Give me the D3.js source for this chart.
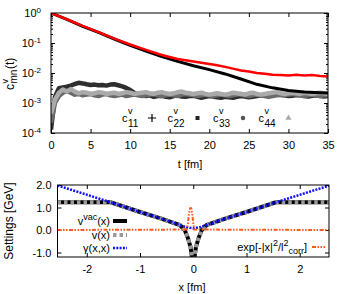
<!DOCTYPE html>
<html>
<head>
<meta charset="utf-8">
<script src="https://cdn.jsdelivr.net/npm/d3@7"></script>
<style>
  body { margin: 0; background: #fff; }
  svg { font-family: "Liberation Sans", Arial, sans-serif; }
</style>
</head>
<body>
<div id="chart"></div>
<script>
// ---- top panel data: c^v_mn(t) ----
const tRed = [0, 2, 4, 6, 8, 10, 12, 14, 16, 18, 20, 21, 22, 23, 24, 25, 26, 27, 28, 29, 30, 31, 32, 33, 34, 35]
const cRed = [1, 0.62, 0.37, 0.23, 0.14, 0.089, 0.059, 0.040, 0.0295, 0.024, 0.020, 0.0182, 0.0160, 0.0140, 0.0122, 0.0112, 0.0100, 0.0094, 0.0088, 0.0086, 0.0082, 0.0087, 0.0083, 0.0085, 0.0080, 0.0077]
const tBlack = [0, 2, 4, 6, 8, 10, 12, 14, 16, 18, 20, 22, 24, 26, 28, 30, 32, 34, 35]
const cBlack = [1, 0.61, 0.36, 0.225, 0.136, 0.084, 0.054, 0.035, 0.0245, 0.0175, 0.0130, 0.0093, 0.0063, 0.0042, 0.0032, 0.0026, 0.00234, 0.0022, 0.00214]
// grey curves sampled every 0.5 fm
const tGrey = d3.range(0, 35.01, 0.5)
const c22 = [1.3e-4, 1.6e-3, 3.1e-3, 3.3e-3, 3.5e-3, 3.8e-3, 4.3e-3, 4.7e-3, 4.5e-3, 4.2e-3,
  4.0e-3, 4.1e-3, 3.9e-3, 4.0e-3, 3.8e-3, 4.1e-3, 4.2e-3, 3.9e-3, 3.6e-3, 3.2e-3,
  2.7e-3, 2.2e-3, 1.9e-3, 1.8e-3, 1.7e-3, 1.8e-3, 1.6e-3, 1.7e-3, 1.75e-3, 1.6e-3,
  1.55e-3, 1.7e-3, 1.8e-3, 1.65e-3, 1.6e-3, 1.7e-3, 1.75e-3, 1.6e-3, 1.5e-3, 1.6e-3,
  1.7e-3, 1.65e-3, 1.55e-3, 1.5e-3, 1.6e-3, 1.55e-3, 1.5e-3, 1.6e-3, 1.7e-3, 1.65e-3,
  1.55e-3, 1.6e-3, 1.7e-3, 1.8e-3, 1.75e-3, 1.7e-3, 1.8e-3, 1.9e-3, 1.85e-3, 1.8e-3,
  1.7e-3, 1.75e-3, 1.85e-3, 1.8e-3, 1.7e-3, 1.65e-3, 1.75e-3, 1.8e-3, 1.7e-3, 1.65e-3,
  1.7e-3]
const c33 = [2.2e-4, 1.0e-3, 1.7e-3, 2.2e-3, 2.5e-3, 2.2e-3, 1.9e-3, 2.0e-3, 1.8e-3, 1.9e-3,
  2.0e-3, 1.8e-3, 1.7e-3, 1.9e-3, 2.0e-3, 1.8e-3, 1.7e-3, 1.8e-3, 1.9e-3, 1.7e-3,
  1.8e-3, 1.9e-3, 1.8e-3, 1.7e-3, 1.8e-3, 1.9e-3, 2.0e-3, 1.8e-3, 1.7e-3, 1.8e-3,
  1.9e-3, 1.8e-3, 1.7e-3, 1.9e-3, 2.0e-3, 1.9e-3, 1.8e-3, 1.7e-3, 1.8e-3, 1.9e-3,
  1.8e-3, 1.7e-3, 1.8e-3, 1.9e-3, 1.8e-3, 1.7e-3, 1.8e-3, 1.9e-3, 2.0e-3, 1.8e-3,
  1.7e-3, 1.8e-3, 1.9e-3, 1.8e-3, 1.7e-3, 1.6e-3, 1.7e-3, 1.8e-3, 1.9e-3, 1.8e-3,
  1.9e-3, 2.0e-3, 1.9e-3, 1.8e-3, 1.7e-3, 1.8e-3, 1.9e-3, 1.8e-3, 1.7e-3, 1.8e-3,
  1.8e-3]
const c44 = [4.5e-4, 1.3e-3, 2.2e-3, 2.8e-3, 2.4e-3, 2.9e-3, 2.4e-3, 2.1e-3, 2.3e-3, 2.2e-3,
  2.0e-3, 2.1e-3, 2.3e-3, 2.2e-3, 2.0e-3, 2.1e-3, 2.2e-3, 2.0e-3, 2.1e-3, 2.3e-3,
  2.2e-3, 2.0e-3, 2.1e-3, 2.2e-3, 2.3e-3, 2.1e-3, 2.0e-3, 2.2e-3, 2.3e-3, 2.1e-3,
  2.0e-3, 2.1e-3, 2.3e-3, 2.4e-3, 2.2e-3, 2.1e-3, 2.0e-3, 2.1e-3, 2.2e-3, 2.0e-3,
  1.9e-3, 2.0e-3, 2.1e-3, 2.0e-3, 1.9e-3, 2.0e-3, 2.2e-3, 2.1e-3, 2.0e-3, 1.9e-3,
  2.1e-3, 2.2e-3, 2.0e-3, 1.9e-3, 2.0e-3, 2.1e-3, 2.2e-3, 2.3e-3, 2.1e-3, 2.0e-3,
  2.1e-3, 2.2e-3, 2.1e-3, 2.0e-3, 2.2e-3, 2.1e-3, 2.0e-3, 2.1e-3, 2.2e-3, 2.1e-3,
  2.0e-3]
const tTicks = [0, 5, 10, 15, 20, 25, 30, 35]
const decades = [1e-4, 1e-3, 1e-2, 1e-1, 1]
const legendIdx = ['11', '22', '33', '44']

// ---- bottom panel data: settings ----
const xPot = [-2.55, -1.55, -1.0, -0.63, -0.25, -0.16, -0.1, -0.07, -0.05, -0.03, -0.02, 0.02, 0.03, 0.05, 0.07, 0.1, 0.16, 0.25, 0.63, 1.0, 1.55, 2.55]
const vVac = [1.23, 1.23, 0.8, 0.53, 0.22, 0.0, -0.36, -0.6, -0.76, -1.1, -1.4, -1.4, -1.1, -0.76, -0.6, -0.36, 0.0, 0.22, 0.53, 0.8, 1.23, 1.23]
const vX = [1.23, 1.23, 0.8, 0.53, 0.22, 0.0, -0.36, -0.6, -0.76, -1.1, -1.4, -1.4, -1.1, -0.76, -0.6, -0.36, 0.0, 0.22, 0.53, 0.8, 1.23, 1.23]
const xGam = [-2.55, -1.55, -1.0, -0.63, -0.25, -0.12, 0, 0.12, 0.25, 0.63, 1.0, 1.55, 2.55]
const gam = [1.98, 1.23, 0.8, 0.53, 0.22, 0.12, 0.07, 0.12, 0.22, 0.53, 0.8, 1.23, 1.97]
const xExp = [-2.55, -0.12, -0.1, -0.08, -0.06, -0.04, -0.02, 0.0, 0.02, 2.55]
const yExp = [0, 0.02, 0.3, 0.75, 0.97, 0.97, 0.75, 0.3, 0.02, 0]
const xTicksB = [-2, -1, 0, 1, 2]
const yTicksB = [-1, 0, 1, 2]

const W = 350, H = 294
const svg = d3.select('#chart').append('svg').attr('width', W).attr('height', H)

// ---------- top panel ----------
const xT = d3.scaleLinear().domain([0, 35]).range([51, 328])
const yT = d3.scaleLog().domain([1e-4, 1]).range([133, 13])

const defs = svg.append('defs')
defs.append('clipPath').attr('id', 'clipT').append('rect')
    .attr('x', 51).attr('y', 13).attr('width', 277).attr('height', 120)

const minors = []
decades.slice(0, 4).forEach(d => { for (let k = 2; k < 10; k++) minors.push(d * k) })

const styleAxis = g => {
    g.select('.domain').remove()
    g.selectAll('line').attr('stroke', '#000')
    g.attr('font-size', 11).attr('font-family', '"Liberation Sans", Arial, sans-serif')
}

svg.append('g').attr('transform', 'translate(0,133)')
    .call(d3.axisBottom(xT).tickValues(tTicks).tickSizeInner(-4).tickSizeOuter(0).tickPadding(8).tickFormat(d => d))
    .call(styleAxis)
svg.append('g').attr('transform', 'translate(0,13)')
    .call(d3.axisTop(xT).tickValues(tTicks).tickSizeInner(-4).tickSizeOuter(0).tickFormat(''))
    .call(styleAxis)

const yLeft = svg.append('g').attr('transform', 'translate(51,0)')
    .call(d3.axisLeft(yT).tickValues(decades).tickSizeInner(-4).tickSizeOuter(0).tickPadding(10).tickFormat(() => ''))
    .call(styleAxis)
yLeft.selectAll('.tick text').each(function (d) {
    const t = d3.select(this)
    t.append('tspan').text('10')
    t.append('tspan').attr('dy', '-0.5em').attr('font-size', 8).text(Math.round(Math.log10(d)))
})
svg.append('g').attr('transform', 'translate(51,0)')
    .call(d3.axisLeft(yT).tickValues(minors).tickSizeInner(-2).tickSizeOuter(0).tickFormat(''))
    .call(styleAxis)
svg.append('g').attr('transform', 'translate(328,0)')
    .call(d3.axisRight(yT).tickValues(decades).tickSizeInner(-4).tickSizeOuter(0).tickFormat(''))
    .call(styleAxis)
svg.append('g').attr('transform', 'translate(328,0)')
    .call(d3.axisRight(yT).tickValues(minors).tickSizeInner(-2).tickSizeOuter(0).tickFormat(''))
    .call(styleAxis)

const lineT = d3.line().x(d => xT(d[0])).y(d => yT(d[1]))
const plotT = svg.append('g').attr('clip-path', 'url(#clipT)')
const greySeries = [
    { vals: c22, color: '#2e2e2e' },
    { vals: c33, color: '#6a6a6a' },
    { vals: c44, color: '#aaaaaa' }
]
greySeries.forEach(s => {
    plotT.append('path')
        .datum(tGrey.map((t, i) => [t, s.vals[i]]))
        .attr('d', lineT).attr('fill', 'none')
        .attr('stroke', s.color).attr('stroke-width', 4.5).attr('stroke-linejoin', 'round')
})
plotT.append('path').datum(tBlack.map((t, i) => [t, cBlack[i]]))
    .attr('d', lineT).attr('fill', 'none').attr('stroke', '#000').attr('stroke-width', 3)
plotT.append('path').datum(tRed.map((t, i) => [t, cRed[i]]))
    .attr('d', lineT).attr('fill', 'none').attr('stroke', '#ff0000').attr('stroke-width', 2.5)

svg.append('rect').attr('x', 51).attr('y', 13).attr('width', 277).attr('height', 120)
    .attr('fill', 'none').attr('stroke', '#000').attr('stroke-width', 1)

// top legend
const legSym = [d3.symbolPlus, d3.symbolSquare, d3.symbolCircle, d3.symbolTriangle]
const legCol = ['#000', '#222', '#555', '#aaa']
legendIdx.forEach((k, i) => {
    const x0 = 122 + i * 45.5
    const txt = svg.append('text').attr('x', x0).attr('y', 122).attr('font-size', 11)
    txt.append('tspan').text('c')
    txt.append('tspan').attr('x', x0 + 6).attr('dy', -8).attr('font-size', 9).text('v')
    txt.append('tspan').attr('x', x0 + 6).attr('dy', 13).attr('font-size', 10).text(k)
    const sym = d3.symbol().type(legSym[i]).size(i === 0 ? 24 : 16)
    svg.append('path').attr('d', sym()).attr('transform', `translate(${x0 + 30},118)`)
        .attr('fill', i === 0 ? 'none' : legCol[i])
        .attr('stroke', i === 0 ? legCol[i] : 'none').attr('stroke-width', 1.2)
})

// top axis titles
svg.append('text').attr('x', 190).attr('y', 168).attr('text-anchor', 'middle').attr('font-size', 11).text('t [fm]')
const yl = svg.append('g').attr('transform', 'translate(14,73) rotate(-90)')
const ylt = yl.append('text').attr('x', -17).attr('y', 0).attr('font-size', 12)
ylt.append('tspan').text('c')
ylt.append('tspan').attr('x', -10.5).attr('dy', -6).attr('font-size', 9).text('v')
ylt.append('tspan').attr('x', -10.5).attr('dy', 9).attr('font-size', 10).text('mn')
ylt.append('tspan').attr('x', 4).attr('dy', -3).text('(t)')

// ---------- bottom panel ----------
const xB = d3.scaleLinear().domain([-2.55, 2.55]).range([57.5, 329])
const yB = d3.scaleLinear().domain([-1.2, 2.0]).range([257, 185])
defs.append('clipPath').attr('id', 'clipB').append('rect')
    .attr('x', 57.5).attr('y', 185).attr('width', 271.5).attr('height', 72)

const fmtNum = d => String(d).replace('\u2212', '-')
svg.append('g').attr('transform', 'translate(0,257)')
    .call(d3.axisBottom(xB).tickValues(xTicksB).tickSizeInner(-4).tickSizeOuter(0).tickPadding(8).tickFormat(fmtNum))
    .call(styleAxis)
svg.append('g').attr('transform', 'translate(0,185)')
    .call(d3.axisTop(xB).tickValues(xTicksB).tickSizeInner(-4).tickSizeOuter(0).tickFormat(''))
    .call(styleAxis)
svg.append('g').attr('transform', 'translate(57.5,0)')
    .call(d3.axisLeft(yB).tickValues(yTicksB).tickSizeInner(-4).tickSizeOuter(0).tickPadding(6).tickFormat(d => d.toFixed(1)))
    .call(styleAxis)
svg.append('g').attr('transform', 'translate(329,0)')
    .call(d3.axisRight(yB).tickValues(yTicksB).tickSizeInner(-4).tickSizeOuter(0).tickFormat(''))
    .call(styleAxis)

const lineB = d3.line().x(d => xB(d[0])).y(d => yB(d[1]))
const plotB = svg.append('g').attr('clip-path', 'url(#clipB)')
const zipB = (xs, ys) => xs.map((x, i) => [x, ys[i]])

const orange = '#ff5a1e', blue = '#1010ff'
const styles = {
    vac: { stroke: '#000', width: 4, dash: null },
    v: { stroke: '#999', width: 4, dash: '3.5,3' },
    gam: { stroke: blue, width: 2.5, dash: '2,1.3' },
    exp: { stroke: orange, width: 2, dash: '4,1.5,1.5,1.5,1.5,1.5' }
}
const drawB = (data, s) => plotB.append('path').datum(data).attr('d', lineB)
    .attr('fill', 'none').attr('stroke', s.stroke).attr('stroke-width', s.width)
    .attr('stroke-dasharray', s.dash)

drawB(zipB(xPot, vVac), styles.vac)
drawB(zipB(xPot, vX), styles.v)
drawB(zipB(xGam, gam), styles.gam)
drawB(zipB(xExp, yExp), styles.exp)

svg.append('rect').attr('x', 57.5).attr('y', 185).attr('width', 271.5).attr('height', 72)
    .attr('fill', 'none').attr('stroke', '#000').attr('stroke-width', 1)

// bottom legend
const legB = [
    { y: 221, parts: [['v', 0, 11], ['vac', -5, 9], ['(x)', 5, 11]], s: styles.vac },
    { y: 235, parts: [['v(x)', 0, 11]], s: styles.v },
    { y: 248, parts: [['\u03b3(x,x)', 0, 11]], s: styles.gam }
]
legB.forEach(l => {
    const t = svg.append('text').attr('x', 110).attr('y', l.y + 4).attr('text-anchor', 'end').attr('font-size', 11)
    l.parts.forEach(p => t.append('tspan').attr('dy', p[1]).attr('font-size', p[2]).text(p[0]))
    svg.append('line').attr('x1', 113).attr('x2', 127).attr('y1', l.y).attr('y2', l.y)
        .attr('stroke', l.s.stroke).attr('stroke-width', l.s.width).attr('stroke-dasharray', l.s.dash)
})
const te = svg.append('text').attr('x', 307).attr('y', 251).attr('text-anchor', 'end').attr('font-size', 11)
te.append('tspan').text('exp[-|x|')
te.append('tspan').attr('dy', -5).attr('font-size', 9).text('2')
te.append('tspan').attr('dy', 5).text('/l')
te.append('tspan').attr('dy', -5).attr('font-size', 9).text('2')
te.append('tspan').attr('dy', 8).attr('font-size', 9).text('corr')
te.append('tspan').attr('dy', -3).text(']')
svg.append('line').attr('x1', 312).attr('x2', 325).attr('y1', 247).attr('y2', 247)
    .attr('stroke', orange).attr('stroke-width', 2).attr('stroke-dasharray', styles.exp.dash)

svg.append('text').attr('x', 192).attr('y', 291).attr('text-anchor', 'middle').attr('font-size', 11).text('x [fm]')
svg.append('text').attr('transform', 'translate(13,221) rotate(-90)').attr('text-anchor', 'middle')
    .attr('font-size', 12).text('Settings [GeV]')
</script>
</body>
</html>
